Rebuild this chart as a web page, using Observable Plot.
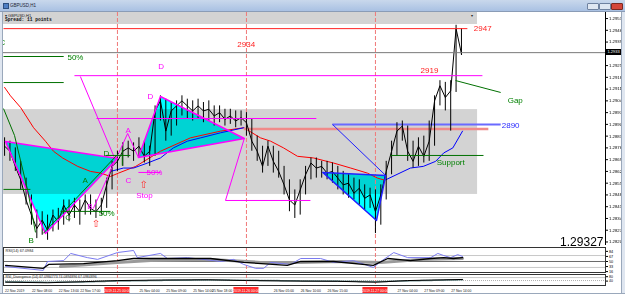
<!DOCTYPE html>
<html><head><meta charset="utf-8">
<script src="https://cdn.jsdelivr.net/npm/d3@7"></script>
<script src="https://cdn.jsdelivr.net/npm/@observablehq/plot@0.6"></script>
<style>
html,body{margin:0;padding:0;background:#fff;}
#win{position:relative;width:625px;height:294px;overflow:hidden;background:#fff;font-family:"Liberation Sans",Arial,sans-serif;}
.abs{position:absolute;}
</style></head><body><div id="win"></div>
<script>
// ---------- DATA ----------
const X0 = -0.2, X1 = 111.8;            // bar-index domain (H1 bars)
const bid = 1.29327;
// H1 bars: close / high / low
const closes = [1.2877,1.2874,1.2865,1.2857,1.2845,1.2836,1.2828,1.2833,1.2827,1.2836,
 1.2832,1.2842,1.2836,1.2842,1.2838,1.2845,1.2840,1.2838,1.2842,1.2854,
 1.2865,1.2868,1.2874,1.2876,1.2874,1.2877,1.2871,1.2874,1.2898,1.2904,
 1.2886,1.2898,1.2901,1.2904,1.2901,1.2898,1.2901,1.2898,1.2899,1.2895,
 1.2897,1.2893,1.2895,1.2892,1.2894,1.2891,1.2880,1.2874,1.2865,1.2877,
 1.2868,1.2862,1.2854,1.2845,1.2842,1.2851,1.2860,1.2867,1.2864,1.2865,
 1.2861,1.2862,1.2858,1.2854,1.2855,1.2849,1.2852,1.2846,1.2848,1.2838,
 1.2848,1.2862,1.2874,1.2886,1.2889,1.2874,1.2868,1.2877,1.2871,1.2880,
 1.2904,1.2913,1.2906,1.2910,1.2947,1.2932];
const highs = [1.2882,1.2880,1.2876,1.2868,1.2858,1.2848,1.2839,1.2838,1.2836,1.2839,
 1.2840,1.2845,1.2845,1.2846,1.2845,1.2848,1.2848,1.2845,1.2846,1.2858,
 1.2868,1.2874,1.2879,1.2880,1.2879,1.2882,1.2880,1.2877,1.2901,1.2907,
 1.2905,1.2903,1.2904,1.2907,1.2905,1.2904,1.2905,1.2903,1.2904,1.2901,
 1.2901,1.2899,1.2899,1.2898,1.2898,1.2897,1.2893,1.2883,1.2877,1.2880,
 1.2877,1.2874,1.2865,1.2857,1.2851,1.2857,1.2865,1.2870,1.2870,1.2868,
 1.2868,1.2867,1.2865,1.2862,1.2860,1.2858,1.2857,1.2854,1.2852,1.2851,
 1.2854,1.2868,1.2880,1.2891,1.2892,1.2889,1.2880,1.2882,1.2883,1.2892,
 1.2907,1.2916,1.2915,1.2916,1.2949,1.2947];
const lows = [1.2871,1.2868,1.2862,1.2851,1.2842,1.2830,1.2822,1.2824,1.2821,1.2826,
 1.2827,1.2830,1.2832,1.2834,1.2830,1.2836,1.2836,1.2834,1.2836,1.2840,
 1.2851,1.2862,1.2865,1.2870,1.2868,1.2870,1.2867,1.2865,1.2871,1.2892,
 1.2880,1.2883,1.2889,1.2895,1.2893,1.2892,1.2893,1.2891,1.2892,1.2889,
 1.2891,1.2889,1.2890,1.2888,1.2889,1.2883,1.2874,1.2868,1.2861,1.2865,
 1.2861,1.2858,1.2848,1.2838,1.2834,1.2836,1.2848,1.2857,1.2858,1.2858,
 1.2857,1.2855,1.2851,1.2848,1.2846,1.2845,1.2842,1.2839,1.2840,1.2825,
 1.2830,1.2845,1.2860,1.2871,1.2880,1.2868,1.2864,1.2865,1.2867,1.2868,
 1.2877,1.2901,1.2898,1.2886,1.2909,1.2931];
// moving averages
const redMA_t = [0,1.1,3.0,5.4,7.6,9.1,10.8,13.6,16.0,17.9,19.7,21.2,24.4,29.0,34.6,40.2,44.5,47.6,49.5,51.9,54.5,57.5,61.2,64.4,67.5,69.4,70.5];
const redMA_v = [1.2912,1.2907,1.2900,1.2888,1.2880,1.2874,1.2870,1.2865,1.2862,1.2861,1.2859,1.2861,1.2865,1.2874,1.2882,1.2886,1.2888,1.2882,1.2880,1.2876,1.2871,1.2870,1.2867,1.2864,1.2861,1.2858,1.2857];
const blueMA1_t = [19.7,22.1,24.0,26.6,29.0,31.4,34.0,36.5,40.2,44.5];
const blueMA1_v = [1.2862,1.2864,1.2864,1.2867,1.2870,1.2876,1.2880,1.2882,1.2885,1.2888];
const blueMA2_t = [70.9,75.5,77.9,80.2,81.7,83.4,85.2];
const blueMA2_v = [1.2857,1.2864,1.2865,1.2868,1.2873,1.2876,1.2886];
// drawn objects (time index, price)
const grayZone = [X0, 88.0, 1.28483, 1.28988];
const pat1 = [[0.17,1.28798],[21.0,1.28697],[7.6,1.28251]];
const pat2 = [[24.9,1.28703],[29.0,1.29066],[44.6,1.28816]];
const pat3 = [[59.2,1.28614],[70.9,1.28596],[69.2,1.28328]];
const level2947 = [[X0,1.2947,86.1,1.2947]];
const levelPink = [[44.5,1.28872,90.0,1.28872]];
const magentaSegs = [[13.0,1.2919,88.9,1.2919],[17.1,1.28935,58.0,1.28935],[24.9,1.28614,29.0,1.28614],
 [41.1,1.28447,56.9,1.28447],[14.1,1.29185,20.5,1.28697],[16.5,1.28399,22.9,1.28846],
 [22.9,1.28846,24.9,1.28703],[44.6,1.28816,41.1,1.28447]];
const greenSegs = [[X0,1.29304,11.0,1.29304],[X0,1.29149,11.0,1.29149],[10.4,1.28382,19.7,1.28382],
 [X0,1.28513,4.8,1.28513],[7.2,1.28251,21.2,1.28727],[18.8,1.28715,23.4,1.28715],
 [21.9,1.28762,21.9,1.28655],[71.8,1.28715,89.1,1.28715],[83.9,1.29161,92.3,1.2909],
 [X0,1.28994,1.85,1.28834],[1.85,1.28834,4.3,1.28507],[4.3,1.28507,5.75,1.28257]];
const blueSegs = [[61.0,1.2890,70.9,1.28596]];
const level2890 = [[61.0,1.2890,92.3,1.2890]];
const vlines = [21, 45, 69];
const priceTicks = [1.2953,1.2946,1.2939,1.2925,1.2918,1.2911,1.2904,1.2897,1.2890,1.2883,1.2876,1.2869,1.2862,1.2855,1.2848,1.2841,1.2834,1.2827,1.2820];
// labels: [text, time, price]
const greenLabels = [["C",-0.94,1.29375],["50%",11.7,1.29286],["D",18.4,1.28709],["A",14.5,1.28554],
 ["50%",17.5,1.28352],["C",11.3,1.28328],["B",4.45,1.28191],["Gap",93.6,1.2903],["Support",80.4,1.28661]];
const magentaLabels = [["D",28.6,1.29232],["A",22.5,1.28846],["C",22.5,1.28554],["50%",26.4,1.28596],
 ["D",26.6,1.29054],["Stop",24.5,1.28459],["B",15.4,1.28399]];
const redLabels = [["2934",43.3,1.29363],["2947",87.3,1.29453],["2919",77.4,1.29203]];
const blueLabels = [["2890",92.5,1.28881]];
const arrows = [[25.9,1.28524],[17.0,1.28292]];
// RSI panel
const rsiBlue_t = [0.2,7.2,8.0,11.0,12.3,15.4,17.3,21.0,24.0,24.7,29.0,30.3,34.0,38.9,40.2,42.6,44.5,46.7,48.2,49.5,53.2,55.1,58.8,61.2,64.9,68.6,70.0,72.4,75.0,79.3,80.6,81.7,83.0,84.3,85.2];
const rsiBlue_v = [33,20,50,53,77,63,57,80,87,63,77,60,63,53,50,57,40,27,27,47,40,60,60,47,53,30,50,80,63,63,77,70,63,73,67];
const rsiBlack_t = [0.2,7.2,8.2,14.7,21.0,24.0,38.3,44.5,52.6,55.1,61.2,68.6,71.3,75.5,79.3,81.7,83.5,85.2];
const rsiBlack_v = [37,27,40,43,53,60,60,47,37,50,50,37,60,53,60,63,60,63];
const rsiGray_t = [10.4,21.0,27.2,38.3,47.6,55.1,62.5,70.0,77.4,85.2];
const rsiGray_v = [33,47,53,57,47,47,50,47,57,60];
const rsiTicks = [84,67,50,33,16];
// divergence panel
const div_t = [0.2,8,15,21,30,38,45,55,62,69,75,85.2];
const div_v = [30,25,35,45,50,52,45,40,38,30,45,55];
const divSig_v = [35,30,33,40,47,50,48,42,40,35,42,52];
// time axis
const timeTicks_t = [0,5,10,14,25,30,35,38.5,50,55,60,73,78,83];
const timeTicks = ["22 Nov 2019","22 Nov 08:00","22 Nov 13:00","22 Nov 17:00","25 Nov 04:00","25 Nov 09:00","25 Nov 14:00","25 Nov 18:00","26 Nov 05:00","26 Nov 10:00","26 Nov 15:00","27 Nov 04:00","27 Nov 09:00","27 Nov 14:00"];
const vlineLabels = ["2019.11.25 00:00","2019.11.26 00:00","2019.11.27 00:00"];

// ---------- BUILD ----------
const win = document.getElementById("win");
const FONT = '"Liberation Sans", Arial, sans-serif';
const bars = closes.map((c, i) => ({t: i, c, h: highs[i], l: lows[i]}));
const zip = (t, v) => t.map((x, i) => [x, v[i]]);
const seg = (data, o) => Plot.link(data, {x1: d => d[0], y1: d => d[1], x2: d => d[2], y2: d => d[3], ...o});
const lbl = (data, o) => Plot.text(data, {x: d => d[1], y: d => d[2], text: d => d[0], textAnchor: "start", lineAnchor: "bottom", fontSize: 8, fontFamily: FONT, ...o});
const poly = (P, o) => Plot.line(P, {x: d => d[0], y: d => d[1], curve: "linear-closed", ...o});

function place(el, top, z) {
  const d = document.createElement("div");
  d.className = "abs"; d.style.left = "0px"; d.style.top = top + "px"; d.style.width = "625px"; d.style.zIndex = z;
  d.appendChild(el); win.appendChild(d); return d;
}
function html(s) { const d = document.createElement("div"); d.innerHTML = s; win.appendChild(d.firstElementChild); }

// header band (behind transparent chart svg)
html(`<div class="abs" style="left:3px;top:12px;width:474px;height:12px;background:#d3d3d3;z-index:0">
 <div style="position:absolute;left:2px;top:0.5px;font-size:4px;color:#222;white-space:nowrap">▾ GBPUSD,H1</div>
 <div style="position:absolute;left:2px;top:5px;font:bold 4.6px 'Liberation Mono',monospace;color:#111;white-space:nowrap">Spread: 11 points</div>
 <div style="position:absolute;left:468px;top:1px;font-size:4px;color:#222">▾</div></div>`);

const baseStyle = {fontFamily: FONT, fontSize: "4.3px", color: "#000", overflow: "visible"};

const main = Plot.plot({
  width: 625, height: 246, marginLeft: 3, marginRight: 20, marginTop: 12, marginBottom: 1,
  style: {...baseStyle, background: "transparent"},
  x: {domain: [X0, X1], axis: null},
  y: {domain: [1.28179, 1.29566], axis: "right", ticks: priceTicks, tickFormat: d3.format(".4f"), tickSize: 2, tickPadding: 1.5, label: null},
  marks: [
    Plot.rect([grayZone], {x1: d => d[0], x2: d => d[1], y1: d => d[2], y2: d => d[3], fill: "#d3d3d3"}),
    ...[pat1, pat2, pat3].map(P => poly(P, {fill: "#00ffff", stroke: "none", mixBlendMode: "multiply"})),
    Plot.ruleX(vlines, {stroke: "#f07878", strokeDasharray: "4,2"}),
    Plot.line(zip(redMA_t, redMA_v), {x: d => d[0], y: d => d[1], stroke: "#ff0000", strokeWidth: 1}),
    Plot.line(zip(blueMA1_t, blueMA1_v), {x: d => d[0], y: d => d[1], stroke: "#0000ff", strokeWidth: 1}),
    Plot.line(zip(blueMA2_t, blueMA2_v), {x: d => d[0], y: d => d[1], stroke: "#0000ff", strokeWidth: 1}),
    seg(levelPink, {stroke: "#f08a8a", strokeWidth: 2.5}),
    seg(level2890, {stroke: "#6a6aff", strokeWidth: 2}),
    Plot.ruleX(bars, {x: "t", y1: "l", y2: "h", stroke: "#000", strokeWidth: 1}),
    Plot.line(bars, {x: "t", y: "c", stroke: "#000", strokeWidth: 1}),
    poly(pat1, {stroke: "#ff00ff", fill: "none"}),
    poly(pat2, {stroke: "#ff00ff", fill: "none"}),
    poly(pat3, {stroke: "#2020ff", fill: "none"}),
    seg(magentaSegs, {stroke: "#ff00ff", strokeWidth: 1}),
    seg(greenSegs, {stroke: "#007000", strokeWidth: 1}),
    seg(blueSegs, {stroke: "#2020ff", strokeWidth: 1}),
    seg(level2947, {stroke: "#ff2020", strokeWidth: 1}),
    Plot.ruleY([bid], {stroke: "#7a7a7a", strokeWidth: 1}),
    lbl(greenLabels, {fill: "#008000"}),
    lbl(magentaLabels, {fill: "#ff00ff"}),
    lbl(redLabels, {fill: "#ff2020"}),
    lbl(blueLabels, {fill: "#2a2aff"}),
    Plot.text(arrows, {x: d => d[0], y: d => d[1], text: () => "⇧", fill: "#ff3030", fontSize: 10, lineAnchor: "bottom", textAnchor: "middle", fontFamily: "DejaVu Sans"}),
    Plot.text([bid], {text: d => d3.format(".5f")(d), frameAnchor: "bottom-right", textAnchor: "end", lineAnchor: "bottom", dx: -2, dy: 0, fontSize: 12, fontFamily: FONT, fill: "#000"}),
    Plot.ruleX([X1], {stroke: "#000"})
  ]
});
place(main, 0, 1);

const rsi = Plot.plot({
  width: 625, height: 28, marginLeft: 3, marginRight: 20, marginTop: 1, marginBottom: 2,
  style: {...baseStyle, background: "white", fontSize: "3.8px"},
  x: {domain: [X0, X1], axis: null},
  y: {domain: [13, 97], axis: "right", ticks: rsiTicks, tickSize: 2, tickPadding: 1.5, label: null},
  marks: [
    Plot.ruleY([70, 30], {stroke: "#c8c8c8"}),
    Plot.ruleY([50], {stroke: "#6a6a6a"}),
    Plot.ruleX(vlines, {stroke: "#f07878", strokeDasharray: "4,2"}),
    Plot.line(zip(rsiGray_t, rsiGray_v), {x: d => d[0], y: d => d[1], stroke: "#9a9a9a", strokeWidth: 3}),
    Plot.line(zip(rsiBlue_t, rsiBlue_v), {x: d => d[0], y: d => d[1], stroke: "#7a7af0", strokeWidth: 1}),
    Plot.line(zip(rsiBlack_t, rsiBlack_v), {x: d => d[0], y: d => d[1], stroke: "#000", strokeWidth: 1.3}),
    Plot.text(["RSI(14) 67.0984"], {frameAnchor: "top-left", textAnchor: "start", lineAnchor: "top", dx: 2, dy: 1.5, fontSize: 3.8, fill: "#222"}),
    Plot.frame({stroke: "#333"})
  ]
});
place(rsi, 246, 1);

const dv = Plot.plot({
  width: 625, height: 14, marginLeft: 3, marginRight: 20, marginTop: 1, marginBottom: 2,
  style: {...baseStyle, background: "white", fontSize: "3.5px"},
  x: {domain: [X0, X1], axis: null},
  y: {domain: [0, 100], axis: "right", ticks: [80, 40], tickSize: 2, tickPadding: 1.5, label: null},
  marks: [
    Plot.ruleY([72], {stroke: "#c8c8c8"}),
    Plot.ruleY([45], {stroke: "#b0b0b0", strokeDasharray: "1,1"}),
    Plot.ruleX(vlines, {stroke: "#f07878", strokeDasharray: "4,2"}),
    Plot.line(zip(div_t, divSig_v), {x: d => d[0], y: d => d[1], stroke: "#6f8f8f", strokeWidth: 1.5, strokeDasharray: "2,1"}),
    Plot.line(zip(div_t, div_v), {x: d => d[0], y: d => d[1], stroke: "#000", strokeWidth: 1}),
    Plot.text(["RSI_Divergence (14) 67.0984773 74.0894896 67.0984896"], {frameAnchor: "top-left", textAnchor: "start", lineAnchor: "top", dx: 2, dy: 0.5, fontSize: 3.5, fill: "#222"}),
    Plot.frame({stroke: "#333"})
  ]
});
place(dv, 273, 1);

const ta = Plot.plot({
  width: 625, height: 8, marginLeft: 3, marginRight: 20, marginTop: 1, marginBottom: 1,
  style: {...baseStyle, background: "white", fontSize: "3.4px"},
  x: {domain: [X0, X1], axis: null},
  y: {axis: null},
  marks: [
    Plot.text(timeTicks_t, {x: d => d, text: (d, i) => timeTicks[i], frameAnchor: "middle", textAnchor: "start", dx: 0.5, fontSize: 3.4, fill: "#222"}),
    Plot.rect(vlines, {x1: d => d - 2.33, x2: d => d + 2.33, fill: "#ff2a2a"}),
    Plot.text(vlines, {x: d => d, text: (d, i) => vlineLabels[i], frameAnchor: "middle", textAnchor: "middle", fontSize: 3.4, fill: "#fff"})
  ]
});
place(ta, 286, 1);

// current price highlight on the right axis
const yb = main.scale("y").apply(bid);
html(`<div class="abs" style="left:606px;top:${yb - 3}px;width:15px;height:6px;background:#000;color:#fff;font-size:4px;line-height:6px;text-align:center;z-index:2">${d3.format(".4f")(bid)}</div>`);

// window chrome
html(`<div class="abs" style="left:0;top:0;width:625px;height:11px;background:linear-gradient(#c9d8ec,#a9c1e3);border-bottom:1px solid #8a9cb6;z-index:3">
 <div style="position:absolute;left:3px;top:3px;width:4px;height:4px;background:#4f7fc4;border:1px solid #2d4f80"></div>
 <div style="position:absolute;left:10px;top:2.5px;font-size:4.5px;color:#223;white-space:nowrap">GBPUSD,H1</div>
 <div style="position:absolute;left:587px;top:3px;width:10px;height:5px;background:#dfe7f2;border:1px solid #6f82a0;border-radius:1px"></div>
 <div style="position:absolute;left:599px;top:3px;width:10px;height:5px;background:#dfe7f2;border:1px solid #6f82a0;border-radius:1px"></div>
 <div style="position:absolute;left:611px;top:3px;width:10px;height:5px;background:#d4463a;border:1px solid #7a2a22;border-radius:1px"></div></div>`);
html(`<div class="abs" style="left:0;top:12px;width:3px;height:282px;background:#dfe6f0;border-right:1px solid #9aa8bb;box-sizing:border-box;z-index:3"></div>`);
html(`<div class="abs" style="left:621px;top:12px;width:4px;height:282px;background:#dfe6f0;border-left:1px solid #9aa8bb;box-sizing:border-box;z-index:3"></div>`);
html(`<div class="abs" style="left:0;top:293px;width:625px;height:1px;background:#9aa8bb;z-index:3"></div>`);
</script></body></html>
